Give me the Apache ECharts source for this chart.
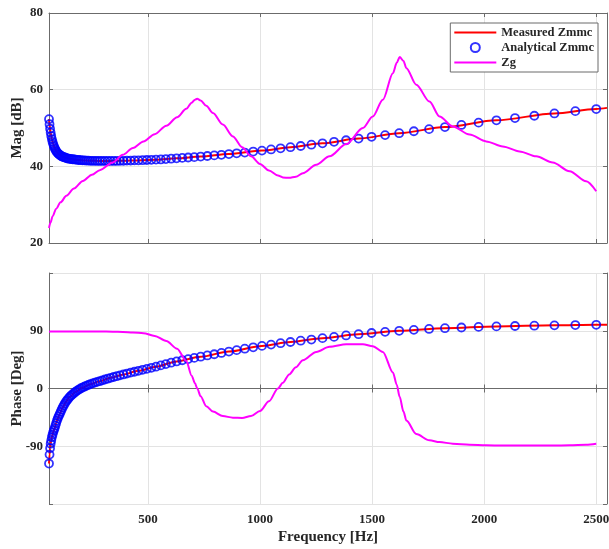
<!DOCTYPE html>
<html>
<head>
<meta charset="utf-8">
<script src="https://cdn.jsdelivr.net/npm/echarts@6/dist/echarts.min.js"></script>
<style>
  html, body { margin: 0; padding: 0; background: #fff; }
  #chart { width: 609px; height: 549px; }
</style>
</head>
<body>
<div id="chart"></div>
<script>
// Analytical model, evaluated on a log-spaced frequency grid (Hz)
const freq = [58.6, 61.0, 63.4, 66.0, 68.6, 71.4, 74.3, 77.3, 80.4, 83.6,
  87.0, 90.5, 94.2, 98.0, 101.9, 106.0, 110.3, 114.7, 119.4, 124.2,
  129.2, 134.4, 139.8, 145.4, 151.3, 157.4, 163.7, 170.3, 177.2, 184.4,
  191.8, 199.5, 207.6, 215.9, 224.6, 233.7, 243.1, 252.9, 263.1, 273.7,
  284.8, 296.2, 308.2, 320.6, 333.5, 347.0, 361.0, 375.5, 390.7, 406.4,
  422.8, 439.8, 457.6, 476.0, 495.2, 515.2, 536.0, 557.6, 580.0, 603.4,
  627.8, 653.1, 679.4, 706.8, 735.3, 764.9, 795.8, 827.8, 861.2, 895.9,
  932.1, 969.6, 1008.7, 1049.4, 1091.7, 1135.7, 1181.5, 1229.2, 1278.7, 1330.3,
  1383.9, 1439.7, 1497.7, 1558.1, 1620.9, 1686.3, 1754.3, 1825.0, 1898.6, 1975.1,
  2054.7, 2137.6, 2223.8, 2313.4, 2406.7, 2500];

const analyticalMag = [52.3, 51.0, 49.8, 48.8, 47.9, 47.1, 46.4, 45.8, 45.3, 44.8,
  44.4, 44.0, 43.7, 43.4, 43.2, 43.0, 42.8, 42.65, 42.5, 42.4,
  42.3, 42.2, 42.1, 42.0, 41.95, 41.9, 41.85, 41.8, 41.75, 41.7,
  41.65, 41.6, 41.55, 41.55, 41.5, 41.5, 41.45, 41.45, 41.45, 41.4,
  41.4, 41.4, 41.4, 41.4, 41.4, 41.4, 41.4, 41.45, 41.45, 41.5,
  41.5, 41.55, 41.55, 41.6, 41.65, 41.7, 41.75, 41.8, 41.9, 42.0,
  42.1, 42.2, 42.3, 42.4, 42.55, 42.7, 42.85, 43.0, 43.2, 43.4,
  43.6, 43.85, 44.1, 44.4, 44.7, 45.0, 45.3, 45.65, 46.0, 46.4,
  46.8, 47.25, 47.7, 48.15, 48.65, 49.15, 49.7, 50.25, 50.8, 51.4,
  52.0, 52.6, 53.2, 53.8, 54.4, 54.95];

const analyticalPhase = [-117, -103, -93, -86, -81, -76, -72, -68, -65, -62,
  -58, -54, -50, -46.5, -43, -40, -36.5, -33, -29.5, -26.5,
  -23.5, -20.5, -18, -15.5, -13, -11, -9, -7, -5, -3.3,
  -1.6, 0, 1.5, 2.8, 4.2, 5.5, 6.8, 8.0, 9.2, 10.3,
  11.4, 12.7, 14.0, 15.3, 16.6, 17.9, 19.2, 20.5, 21.9, 23.3,
  24.7, 26.1, 27.6, 29.1, 30.6, 32.2, 34.0, 36.0, 38.0, 40.2,
  42.2, 44.0, 45.8, 47.7, 49.6, 51.5, 53.4, 55.4, 57.6, 59.8,
  62.0, 64.2, 66.4, 68.4, 70.6, 72.5, 74.5, 76.3, 78.5, 80.4,
  82.7, 84.6, 86.5, 88.3, 89.9, 91.4, 92.8, 94.0, 95.1, 96.0,
  96.8, 97.4, 97.9, 98.4, 98.9, 99.3];

// Measured impedance
const measuredFreq = [58.6, 61.0, 63.4, 66.0, 68.6, 71.4, 77.3, 83.6, 90.5, 98.0,
  106.0, 119.4, 134.4, 151.3, 177.2, 207.6, 243.1, 284.8, 333.5, 390.7,
  457.6, 536.0, 627.8, 735.3, 861.2, 1008.7, 1135.7, 1278.7, 1439.7, 1620.9,
  1825.0, 2054.7, 2313.4, 2500, 2548];
const measuredMag = [52.3, 51.0, 49.8, 48.8, 47.9, 47.1, 45.8, 44.8, 44.0, 43.4,
  43.0, 42.5, 42.2, 41.95, 41.75, 41.55, 41.45, 41.4, 41.4, 41.45,
  41.55, 41.75, 42.1, 42.55, 43.2, 44.1, 45.0, 46.0, 47.25, 48.65,
  50.25, 52.0, 53.8, 54.95, 55.25];
const measuredPhase = [-117, -103, -93, -86, -81, -76, -68, -62, -54, -46.5,
  -40, -29.5, -20.5, -13, -5, 1.5, 6.8, 11.4, 16.6, 21.9,
  27.6, 34.0, 42.2, 49.6, 57.6, 66.4, 72.5, 78.5, 84.6, 89.9,
  94.0, 96.8, 98.4, 99.3, 99.5];

// Grid impedance Zg
const zgFreq = [58.6, 65, 75, 90, 110, 136, 170, 210, 250, 285,
  343, 388, 433, 480, 530, 582, 630, 671, 695, 710,
  720, 735, 760, 790, 834, 879, 920, 960, 1000, 1040,
  1080, 1102, 1130, 1160, 1191, 1251, 1310, 1385, 1459, 1503,
  1548, 1593, 1610, 1623, 1640, 1653, 1697, 1756, 1801, 1860,
  1935, 2009, 2083, 2158, 2232, 2306, 2381, 2455, 2500];
const zgMag = [23.9, 25.3, 27.0, 28.9, 30.6, 32.3, 34.2, 36.2, 37.8, 39.0,
  41.0, 43.0, 44.8, 46.5, 48.4, 50.6, 52.8, 55.0, 56.6, 57.4,
  57.6, 57.2, 55.8, 53.9, 50.9, 47.8, 45.0, 42.6, 40.6, 38.9,
  37.6, 37.1, 37.0, 37.3, 38.2, 40.4, 42.6, 45.8, 50.0, 53.0,
  57.4, 64.3, 67.0, 68.5, 67.5, 65.6, 61.3, 56.9, 53.0, 50.4,
  48.3, 46.5, 45.2, 43.9, 42.6, 41.0, 38.7, 36.1, 33.5];
const zgPhase = [88.5, 88.7, 88.9, 89, 89, 89, 89, 89, 89, 88.8,
  88.5, 88, 87.3, 86.2, 82, 74, 62, 43, 20, 8,
  0, -12, -27.6, -36, -43, -45.5, -46, -43, -35, -20,
  0, 9, 22, 33, 44, 57, 65, 68.8, 68.8, 66,
  57, 25, 6, -13, -36, -50, -71, -80.8, -83.5, -86,
  -87.5, -88.5, -89, -89, -89, -89, -88.5, -87.5, -86];

// Axis ticks
const freqTicks = [500, 1000, 1500, 2000, 2500];
const magTicks = [20, 40, 60, 80];
const phaseTicks = [-90, 0, 90];

const FONT = '"Liberation Serif", "Times New Roman", serif';
const TEXT = '#262626';
const AXIS = '#6b6b6b';
const GRIDLINE = '#e3e3e3';
const F_MIN = 58.6, F_MAX = 2548;

const zip = (xs, ys) => xs.map((x, i) => [x, ys[i]]);

function freqAxis(gridIndex, withLabels) {
  return {
    type: 'value', gridIndex, min: F_MIN, max: F_MAX, position: 'bottom',
    axisLine: { show: true, lineStyle: { color: AXIS, width: 1 } },
    axisTick: { show: true, inside: true, length: 4, customValues: freqTicks, lineStyle: { color: AXIS } },
    axisLabel: withLabels
      ? { show: true, customValues: freqTicks, formatter: v => String(v), margin: 9,
          color: TEXT, fontFamily: FONT, fontWeight: 'bold', fontSize: 13 }
      : { show: false },
    splitLine: { show: true, lineStyle: { color: GRIDLINE, width: 1 } },
    name: withLabels ? 'Frequency [Hz]' : '',
    nameLocation: 'middle', nameGap: 26, nameMoveOverlap: false,
    nameTextStyle: { color: TEXT, fontFamily: FONT, fontWeight: 'bold', fontSize: 15 }
  };
}
function frameX(gridIndex) {
  return {
    type: 'value', gridIndex, min: F_MIN, max: F_MAX, position: 'top',
    axisLine: { show: true, lineStyle: { color: AXIS, width: 1 } },
    axisTick: { show: true, inside: true, length: 4, customValues: freqTicks, lineStyle: { color: AXIS } },
    axisLabel: { show: false }, splitLine: { show: false }
  };
}

const magAxis = {
  type: 'value', gridIndex: 0, min: magTicks[0], max: magTicks[magTicks.length - 1], interval: 20,
  axisLine: { show: true, lineStyle: { color: AXIS } },
  axisTick: { show: true, inside: true, length: 4, lineStyle: { color: AXIS } },
  axisLabel: { color: TEXT, fontFamily: FONT, fontWeight: 'bold', fontSize: 13, margin: 6 },
  splitLine: { show: true, lineStyle: { color: GRIDLINE } },
  name: 'Mag [dB]', nameLocation: 'middle', nameGap: 24, nameMoveOverlap: false,
  nameTextStyle: { color: TEXT, fontFamily: FONT, fontWeight: 'bold', fontSize: 15 }
};
const phaseAxis = {
  type: 'value', gridIndex: 1, min: -180, max: 180, interval: 90,
  axisLine: { show: true, lineStyle: { color: AXIS } },
  axisTick: { show: true, inside: true, length: 4, lineStyle: { color: AXIS } },
  axisLabel: {
    color: TEXT, fontFamily: FONT, fontWeight: 'bold', fontSize: 13, margin: 6,
    formatter: v => (phaseTicks.indexOf(v) >= 0 ? String(v) : '')
  },
  splitLine: { show: true, lineStyle: { color: GRIDLINE } },
  name: 'Phase [Deg]', nameLocation: 'middle', nameGap: 24, nameMoveOverlap: false,
  nameTextStyle: { color: TEXT, fontFamily: FONT, fontWeight: 'bold', fontSize: 15 }
};
function frameY(gridIndex, base) {
  return {
    type: 'value', gridIndex, min: base.min, max: base.max, interval: base.interval, position: 'right',
    axisLine: { show: true, lineStyle: { color: AXIS } },
    axisTick: { show: true, inside: true, length: 4, lineStyle: { color: AXIS } },
    axisLabel: { show: false }, splitLine: { show: false }
  };
}

function measured(xi, yi, ys) {
  return {
    name: 'Measured Zmmc', type: 'line', xAxisIndex: xi, yAxisIndex: yi,
    data: zip(measuredFreq, ys), symbol: 'none', smooth: 0.3, smoothMonotone: 'x',
    lineStyle: { color: '#ff0000', width: 2 }, itemStyle: { color: '#ff0000' }, z: 2
  };
}
function analytical(xi, yi, ys) {
  return {
    name: 'Analytical Zmmc', type: 'scatter', xAxisIndex: xi, yAxisIndex: yi,
    data: zip(freq, ys), symbol: 'circle', symbolSize: 8, clip: false,
    itemStyle: { color: 'rgba(0,0,0,0)', borderColor: '#0000ff', borderWidth: 1.8 }, z: 3
  };
}
function zg(xi, yi, ys) {
  return {
    name: 'Zg', type: 'line', xAxisIndex: xi, yAxisIndex: yi,
    data: zip(zgFreq, ys), symbol: 'none', smooth: 0.3, smoothMonotone: 'x',
    lineStyle: { color: '#ff00ff', width: 2 }, itemStyle: { color: '#ff00ff' }, z: 4
  };
}

// Legend swatch for line series: a plain horizontal stroke
const LINE_ICON = 'path://M0,0 L42,0 L42,2 L0,2 Z';

const chart = echarts.init(document.getElementById('chart'), null, { renderer: 'canvas' });
chart.setOption({
  animation: false,
  backgroundColor: '#ffffff',
  grid: [
    { left: 49, right: 2, top: 13, height: 230, containLabel: false, outerBoundsMode: 'none' },
    { left: 49, right: 2, top: 273, height: 231, containLabel: false, outerBoundsMode: 'none' }
  ],
  xAxis: [freqAxis(0, false), freqAxis(1, true), frameX(0), frameX(1)],
  yAxis: [magAxis, phaseAxis, frameY(0, magAxis), frameY(1, phaseAxis)],
  legend: {
    orient: 'vertical', right: 11, top: 23,
    backgroundColor: '#ffffff', borderColor: '#6b6b6b', borderWidth: 1,
    padding: [3, 4, 3, 4], itemWidth: 42, itemHeight: 9, itemGap: 2,
    textStyle: { color: TEXT, fontFamily: FONT, fontWeight: 'bold', fontSize: 12.5 },
    data: [
      { name: 'Measured Zmmc', icon: LINE_ICON },
      { name: 'Analytical Zmmc' },
      { name: 'Zg', icon: LINE_ICON }
    ]
  },
  series: [
    measured(0, 0, measuredMag), analytical(0, 0, analyticalMag), zg(0, 0, zgMag),
    measured(1, 1, measuredPhase), analytical(1, 1, analyticalPhase), zg(1, 1, zgPhase)
  ]
});
</script>
</body>
</html>
